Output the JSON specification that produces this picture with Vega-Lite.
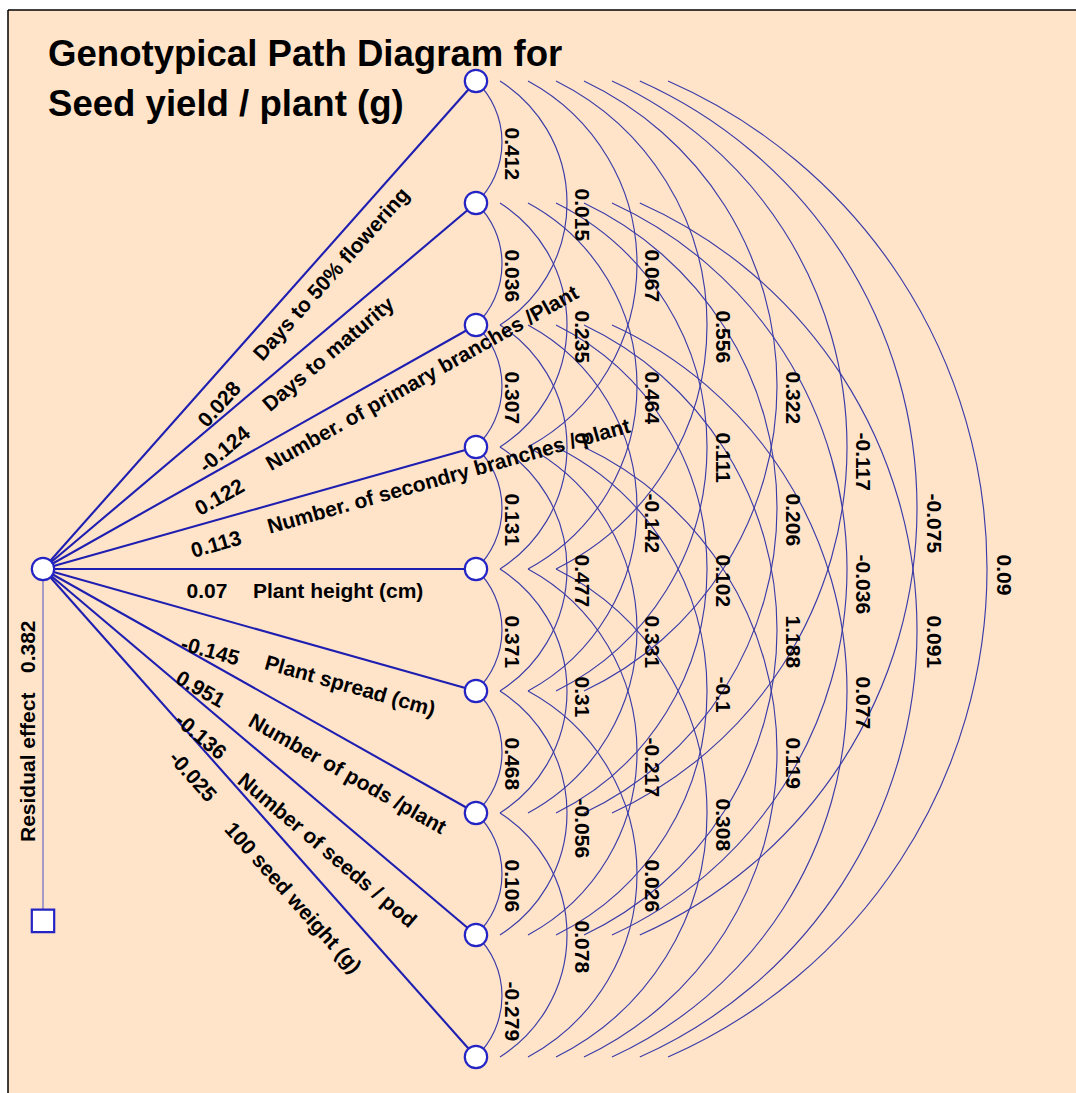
{
  "$schema": "https://vega.github.io/schema/vega-lite/v6.json",
  "width": 1068,
  "height": 1083,
  "autosize": "none",
  "padding": {"left": 8, "top": 10, "right": 0, "bottom": 0},
  "background": "white",
  "config": {
    "view": {"fill": "#FFE4CA", "stroke": null},
    "text": {"font": "Liberation Sans", "fontWeight": "bold", "fontSize": 21, "color": "black"}
  },
  "datasets": {
    "frame": [
      {"x": -0.28689, "y": 0.41803, "x2": 8.46721, "y2": 0.41803},
      {"x": -0.28689, "y": 0.41803, "x2": -0.28689, "y2": 9.29508}
    ],
    "nodes": [
      {"id": 0, "x": 0, "y": 5},
      {"id": 1, "x": 3.549, "y": 1},
      {"id": 2, "x": 3.549, "y": 2},
      {"id": 3, "x": 3.549, "y": 3},
      {"id": 4, "x": 3.549, "y": 4},
      {"id": 5, "x": 3.549, "y": 5},
      {"id": 6, "x": 3.549, "y": 6},
      {"id": 7, "x": 3.549, "y": 7},
      {"id": 8, "x": 3.549, "y": 8},
      {"id": 9, "x": 3.549, "y": 9}
    ],
    "paths": [
      {"k": 1, "x": 0, "y": 5, "x2": 3.549, "y2": 1, "coef": 0.028, "name": "Days to 50% flowering", "cx": 1.3082, "cy": 3.8164, "nx": 1.7623, "ny": 3.2705},
      {"k": 2, "x": 0, "y": 5, "x2": 3.549, "y2": 2, "coef": -0.124, "name": "Days to maturity", "cx": 1.3057, "cy": 4.182, "nx": 1.8279, "ny": 3.6803},
      {"k": 3, "x": 0, "y": 5, "x2": 3.549, "y2": 3, "coef": 0.122, "name": "Number. of primary branches /Plant", "cx": 1.2631, "cy": 4.5238, "nx": 1.8443, "ny": 4.1557},
      {"k": 4, "x": 0, "y": 5, "x2": 3.549, "y2": 4, "coef": 0.113, "name": "Number. of secondry branches / plant", "cx": 1.2189, "cy": 4.8615, "nx": 1.8443, "ny": 4.6639},
      {"k": 5, "x": 0, "y": 5, "x2": 3.549, "y2": 5, "coef": 0.07, "name": "Plant height (cm)", "cx": 1.1762, "cy": 5.1885, "nx": 1.7213, "ny": 5.1885},
      {"k": 6, "x": 0, "y": 5, "x2": 3.549, "y2": 6, "coef": -0.145, "name": "Plant spread (cm)", "cx": 1.1344, "cy": 5.6139, "nx": 1.8197, "ny": 5.7705},
      {"k": 7, "x": 0, "y": 5, "x2": 3.549, "y2": 7, "coef": 0.951, "name": "Number of pods /plant", "cx": 1.0992, "cy": 5.8861, "nx": 1.6967, "ny": 6.2377},
      {"k": 8, "x": 0, "y": 5, "x2": 3.549, "y2": 8, "coef": -0.136, "name": "Number of seeds / pod", "cx": 1.1008, "cy": 6.2197, "nx": 1.6148, "ny": 6.7131},
      {"k": 9, "x": 0, "y": 5, "x2": 3.549, "y2": 9, "coef": -0.025, "name": "100 seed weight (g)", "cx": 1.059, "cy": 6.523, "nx": 1.5164, "ny": 7.1066}
    ],
    "spans": [
      {"s": 1, "cx": 3.0689, "rad": 0.6934, "t1": 43.86, "t2": 136.14, "lx": 3.7869},
      {"s": 2, "cx": 3.1101, "rad": 1.185, "t1": 32.44, "t2": 147.56, "lx": 4.3607},
      {"s": 3, "cx": 3.163, "rad": 1.7059, "t1": 28.44, "t2": 151.56, "lx": 4.9344},
      {"s": 4, "cx": 3.2079, "rad": 2.2348, "t1": 26.5, "t2": 153.5, "lx": 5.5164},
      {"s": 5, "cx": 3.25, "rad": 2.7664, "t1": 25.35, "t2": 154.65, "lx": 6.0902},
      {"s": 6, "cx": 3.2909, "rad": 3.2993, "t1": 24.59, "t2": 155.41, "lx": 6.6639},
      {"s": 7, "cx": 3.3311, "rad": 3.8329, "t1": 24.03, "t2": 155.97, "lx": 7.2459},
      {"s": 8, "cx": 3.3708, "rad": 4.367, "t1": 23.66, "t2": 156.34, "lx": 7.8197}
    ],
    "corr": [
      {"i": 1, "j": 2, "s": 1, "r": 0.412, "cy": 1.5, "ly": 1.382},
      {"i": 2, "j": 3, "s": 1, "r": 0.036, "cy": 2.5, "ly": 2.382},
      {"i": 3, "j": 4, "s": 1, "r": 0.307, "cy": 3.5, "ly": 3.382},
      {"i": 4, "j": 5, "s": 1, "r": 0.131, "cy": 4.5, "ly": 4.382},
      {"i": 5, "j": 6, "s": 1, "r": 0.371, "cy": 5.5, "ly": 5.382},
      {"i": 6, "j": 7, "s": 1, "r": 0.468, "cy": 6.5, "ly": 6.382},
      {"i": 7, "j": 8, "s": 1, "r": 0.106, "cy": 7.5, "ly": 7.382},
      {"i": 8, "j": 9, "s": 1, "r": -0.279, "cy": 8.5, "ly": 8.382},
      {"i": 1, "j": 3, "s": 2, "r": 0.015, "cy": 2, "ly": 1.882},
      {"i": 2, "j": 4, "s": 2, "r": 0.235, "cy": 3, "ly": 2.882},
      {"i": 3, "j": 5, "s": 2, "r": 0, "cy": 4, "ly": 3.882},
      {"i": 4, "j": 6, "s": 2, "r": 0.477, "cy": 5, "ly": 4.882},
      {"i": 5, "j": 7, "s": 2, "r": 0.31, "cy": 6, "ly": 5.882},
      {"i": 6, "j": 8, "s": 2, "r": -0.056, "cy": 7, "ly": 6.882},
      {"i": 7, "j": 9, "s": 2, "r": 0.078, "cy": 8, "ly": 7.882},
      {"i": 1, "j": 4, "s": 3, "r": 0.067, "cy": 2.5, "ly": 2.382},
      {"i": 2, "j": 5, "s": 3, "r": 0.464, "cy": 3.5, "ly": 3.382},
      {"i": 3, "j": 6, "s": 3, "r": -0.142, "cy": 4.5, "ly": 4.382},
      {"i": 4, "j": 7, "s": 3, "r": 0.331, "cy": 5.5, "ly": 5.382},
      {"i": 5, "j": 8, "s": 3, "r": -0.217, "cy": 6.5, "ly": 6.382},
      {"i": 6, "j": 9, "s": 3, "r": 0.026, "cy": 7.5, "ly": 7.382},
      {"i": 1, "j": 5, "s": 4, "r": 0.556, "cy": 3, "ly": 2.882},
      {"i": 2, "j": 6, "s": 4, "r": 0.111, "cy": 4, "ly": 3.882},
      {"i": 3, "j": 7, "s": 4, "r": 0.102, "cy": 5, "ly": 4.882},
      {"i": 4, "j": 8, "s": 4, "r": -0.1, "cy": 6, "ly": 5.882},
      {"i": 5, "j": 9, "s": 4, "r": 0.308, "cy": 7, "ly": 6.882},
      {"i": 1, "j": 6, "s": 5, "r": 0.322, "cy": 3.5, "ly": 3.382},
      {"i": 2, "j": 7, "s": 5, "r": 0.206, "cy": 4.5, "ly": 4.382},
      {"i": 3, "j": 8, "s": 5, "r": 1.188, "cy": 5.5, "ly": 5.382},
      {"i": 4, "j": 9, "s": 5, "r": 0.119, "cy": 6.5, "ly": 6.382},
      {"i": 1, "j": 7, "s": 6, "r": -0.117, "cy": 4, "ly": 3.882},
      {"i": 2, "j": 8, "s": 6, "r": -0.036, "cy": 5, "ly": 4.882},
      {"i": 3, "j": 9, "s": 6, "r": 0.077, "cy": 6, "ly": 5.882},
      {"i": 1, "j": 8, "s": 7, "r": -0.075, "cy": 4.5, "ly": 4.382},
      {"i": 2, "j": 9, "s": 7, "r": 0.091, "cy": 5.5, "ly": 5.382},
      {"i": 1, "j": 9, "s": 8, "r": 0.09, "cy": 5, "ly": 4.882}
    ],
    "residual": [
      {"x": 0, "y": 5, "y2": 7.884, "label": "Residual effect", "value": 0.382, "lx": -0.0656, "ly": 7.2377, "vy": 5.8525}
    ],
    "title": [
      {"line": "Genotypical Path Diagram for", "x": 0.041, "y": 0.873},
      {"line": "Seed yield / plant (g)", "x": 0.041, "y": 1.287}
    ]
  },
  "layer": [
    {
      "data": {"name": "frame"},
      "mark": {"type": "rule", "stroke": "black", "strokeWidth": 1.5},
      "encoding": {
        "x": {"field": "x", "type": "quantitative", "scale": {"domain": [-0.28689, 8.46721], "nice": false, "zero": false}, "axis": null},
        "y": {"field": "y", "type": "quantitative", "scale": {"domain": [0.41803, 9.29508], "reverse": true, "nice": false, "zero": false}, "axis": null},
        "x2": {"field": "x2"},
        "y2": {"field": "y2"}
      }
    },
    {
      "data": {"name": "corr"},
      "transform": [{"lookup": "s", "from": {"data": {"name": "spans"}, "key": "s", "fields": ["cx", "rad", "t1", "t2", "lx"]}}],
      "mark": {"type": "arc", "filled": false, "stroke": "#3B3BA8", "strokeWidth": 1.15},
      "encoding": {
        "x": {"field": "cx", "type": "quantitative", "scale": {"domain": [-0.28689, 8.46721], "nice": false, "zero": false}, "axis": null},
        "y": {"field": "cy", "type": "quantitative", "scale": {"domain": [0.41803, 9.29508], "reverse": true, "nice": false, "zero": false}, "axis": null},
        "theta": {"field": "t1", "type": "quantitative", "stack": null, "scale": {"type": "linear", "domain": [0, 360], "range": [0, 6.283185307179586]}},
        "theta2": {"field": "t2"},
        "radius": {"field": "rad", "type": "quantitative", "scale": {"type": "linear", "domain": [0, 1], "range": [0, 122], "zero": true}},
        "radius2": {"field": "rad"}
      }
    },
    {
      "data": {"name": "residual"},
      "mark": {"type": "rule", "stroke": "#6A6AC2", "strokeWidth": 1.2},
      "encoding": {
        "x": {"field": "x", "type": "quantitative", "scale": {"domain": [-0.28689, 8.46721], "nice": false, "zero": false}, "axis": null},
        "y": {"field": "y", "type": "quantitative", "scale": {"domain": [0.41803, 9.29508], "reverse": true, "nice": false, "zero": false}, "axis": null},
        "y2": {"field": "y2"}
      }
    },
    {
      "data": {"name": "paths"},
      "mark": {"type": "rule", "stroke": "#1E1EB0", "strokeWidth": 2.1},
      "encoding": {
        "x": {"field": "x", "type": "quantitative", "scale": {"domain": [-0.28689, 8.46721], "nice": false, "zero": false}, "axis": null},
        "y": {"field": "y", "type": "quantitative", "scale": {"domain": [0.41803, 9.29508], "reverse": true, "nice": false, "zero": false}, "axis": null},
        "x2": {"field": "x2"},
        "y2": {"field": "y2"}
      }
    },
    {
      "data": {"name": "nodes"},
      "mark": {"type": "point", "shape": "circle", "filled": true, "fill": "white", "stroke": "#2424C4", "strokeWidth": 2.2, "size": 500, "opacity": 1, "fillOpacity": 1},
      "encoding": {
        "x": {"field": "x", "type": "quantitative", "scale": {"domain": [-0.28689, 8.46721], "nice": false, "zero": false}, "axis": null},
        "y": {"field": "y", "type": "quantitative", "scale": {"domain": [0.41803, 9.29508], "reverse": true, "nice": false, "zero": false}, "axis": null}
      }
    },
    {
      "data": {"name": "residual"},
      "mark": {"type": "point", "shape": "square", "filled": true, "fill": "white", "stroke": "#2424C4", "strokeWidth": 2.2, "size": 500, "opacity": 1, "fillOpacity": 1},
      "encoding": {
        "x": {"field": "x", "type": "quantitative", "scale": {"domain": [-0.28689, 8.46721], "nice": false, "zero": false}, "axis": null},
        "y": {"field": "y2", "type": "quantitative", "scale": {"domain": [0.41803, 9.29508], "reverse": true, "nice": false, "zero": false}, "axis": null}
      }
    },
    {
      "data": {"name": "corr"},
      "transform": [{"lookup": "s", "from": {"data": {"name": "spans"}, "key": "s", "fields": ["lx"]}}],
      "mark": {"type": "text", "angle": 90, "align": "left", "baseline": "alphabetic"},
      "encoding": {
        "x": {"field": "lx", "type": "quantitative", "scale": {"domain": [-0.28689, 8.46721], "nice": false, "zero": false}, "axis": null},
        "y": {"field": "ly", "type": "quantitative", "scale": {"domain": [0.41803, 9.29508], "reverse": true, "nice": false, "zero": false}, "axis": null},
        "text": {"field": "r", "type": "nominal"}
      }
    },
    {
      "data": {"name": "paths"},
      "mark": {"type": "text", "align": "left", "baseline": "middle"},
      "encoding": {
        "x": {"field": "cx", "type": "quantitative", "scale": {"domain": [-0.28689, 8.46721], "nice": false, "zero": false}, "axis": null},
        "y": {"field": "cy", "type": "quantitative", "scale": {"domain": [0.41803, 9.29508], "reverse": true, "nice": false, "zero": false}, "axis": null},
        "angle": {"field": "k", "type": "quantitative", "scale": {"type": "linear", "domain": [1, 2, 3, 4, 5, 6, 7, 8, 9], "range": [-48.4, -40.2, -29.4, -15.7, 0, 15.7, 29.4, 40.2, 48.4]}, "legend": null},
        "text": {"field": "coef", "type": "nominal"}
      }
    },
    {
      "data": {"name": "paths"},
      "mark": {"type": "text", "align": "left", "baseline": "middle"},
      "encoding": {
        "x": {"field": "nx", "type": "quantitative", "scale": {"domain": [-0.28689, 8.46721], "nice": false, "zero": false}, "axis": null},
        "y": {"field": "ny", "type": "quantitative", "scale": {"domain": [0.41803, 9.29508], "reverse": true, "nice": false, "zero": false}, "axis": null},
        "angle": {"field": "k", "type": "quantitative", "scale": {"type": "linear", "domain": [1, 2, 3, 4, 5, 6, 7, 8, 9], "range": [-48.4, -40.2, -29.4, -15.7, 0, 15.7, 29.4, 40.2, 48.4]}, "legend": null},
        "text": {"field": "name", "type": "nominal"}
      }
    },
    {
      "data": {"name": "residual"},
      "mark": {"type": "text", "angle": 270, "align": "left", "baseline": "alphabetic"},
      "encoding": {
        "x": {"field": "lx", "type": "quantitative", "scale": {"domain": [-0.28689, 8.46721], "nice": false, "zero": false}, "axis": null},
        "y": {"field": "ly", "type": "quantitative", "scale": {"domain": [0.41803, 9.29508], "reverse": true, "nice": false, "zero": false}, "axis": null},
        "text": {"field": "label", "type": "nominal"}
      }
    },
    {
      "data": {"name": "residual"},
      "mark": {"type": "text", "angle": 270, "align": "left", "baseline": "alphabetic"},
      "encoding": {
        "x": {"field": "lx", "type": "quantitative", "scale": {"domain": [-0.28689, 8.46721], "nice": false, "zero": false}, "axis": null},
        "y": {"field": "vy", "type": "quantitative", "scale": {"domain": [0.41803, 9.29508], "reverse": true, "nice": false, "zero": false}, "axis": null},
        "text": {"field": "value", "type": "nominal"}
      }
    },
    {
      "data": {"name": "title"},
      "mark": {"type": "text", "align": "left", "baseline": "alphabetic", "fontSize": 36.6},
      "encoding": {
        "x": {"field": "x", "type": "quantitative", "scale": {"domain": [-0.28689, 8.46721], "nice": false, "zero": false}, "axis": null},
        "y": {"field": "y", "type": "quantitative", "scale": {"domain": [0.41803, 9.29508], "reverse": true, "nice": false, "zero": false}, "axis": null},
        "text": {"field": "line", "type": "nominal"}
      }
    }
  ]
}
